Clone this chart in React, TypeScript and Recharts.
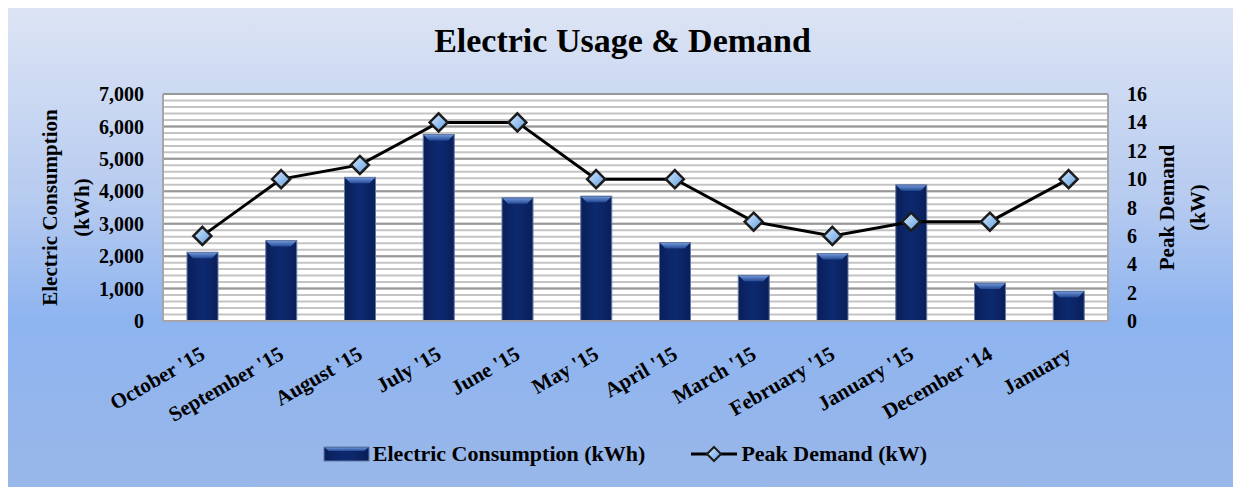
import { ComposedChart, Bar, Line, XAxis, YAxis, CartesianGrid, Legend } from 'recharts';

const months = [
  "October '15", "September '15", "August '15", "July '15", "June '15", "May '15",
  "April '15", "March '15", "February '15", "January '15", "December '14", "January",
];
const consumptionKwh = [2120, 2480, 4430, 5750, 3800, 3850, 2420, 1410, 2080, 4200, 1170, 920];
const peakDemandKw = [6, 10, 11, 14, 14, 10, 10, 7, 6, 7, 7, 10];
const kwhTicks = [0, 1000, 2000, 3000, 4000, 5000, 6000, 7000];
const kwTicks = [0, 2, 4, 6, 8, 10, 12, 14, 16];
const KWH_MAX = 7000;
// minor gridlines every 200 kWh
const minorTicks = Array.from({ length: 36 }, (_, i) => i * 200);

const data = months.map((m, i) => ({ month: m, kwh: consumptionKwh[i], kw: peakDemandKw[i] }));

const FONT = '"Liberation Serif", "Times New Roman", serif';
const W = 1229;
const H = 483;

// map kWh values onto the plot area for the grid lines
const gridGen = (values: number[]) => (props: any) => {
  const { offset } = props;
  return values.map((v) => offset.top + offset.height * (1 - v / KWH_MAX));
};

const BevelBar = (p: any) => {
  const { x, y, width, height } = p;
  if (!height || height <= 0) return null;
  const b = Math.min(6, height / 2);
  return (
    <g>
      <rect x={x} y={y} width={width} height={height} fill="url(#barGrad)" stroke="#6479a3" strokeWidth={1} />
      <polygon
        points={`${x + 0.5},${y + 0.5} ${x + width - 0.5},${y + 0.5} ${x + width - b},${y + b} ${x + b},${y + b}`}
        fill="url(#bevelGrad)"
      />
    </g>
  );
};

const Diamond = (p: any) => {
  const { cx, cy, index } = p;
  const r = 9;
  return (
    <path
      key={`d-${index}`}
      d={`M${cx},${cy - r} L${cx + r},${cy} L${cx},${cy + r} L${cx - r},${cy} Z`}
      fill="url(#diamondGrad)"
      stroke="#1c1c1c"
      strokeWidth={2.5}
    />
  );
};

const MonthTick = (p: any) => {
  const { x, y, payload } = p;
  return (
    <g transform={`translate(${x + 4},${y + 37})`}>
      <text textAnchor="end" transform="rotate(-30)" fontFamily={FONT} fontWeight="bold" fontSize={21} fill="#000">
        {payload.value}
      </text>
    </g>
  );
};

const LeftTitle = (p: any) => {
  const vb = p.viewBox;
  const cy = vb.y + vb.height / 2;
  const x1 = vb.x + 17;
  const x2 = vb.x + 49;
  return (
    <g fontFamily={FONT} fontWeight="bold" fontSize={21} fill="#000">
      <text x={x1} y={cy} textAnchor="middle" dominantBaseline="central" transform={`rotate(-90, ${x1}, ${cy})`}>
        Electric Consumption
      </text>
      <text x={x2} y={cy} textAnchor="middle" dominantBaseline="central" transform={`rotate(-90, ${x2}, ${cy})`}>
        (kWh)
      </text>
    </g>
  );
};

const RightTitle = (p: any) => {
  const vb = p.viewBox;
  const cy = vb.y + vb.height / 2;
  const x1 = vb.x + 59;
  const x2 = vb.x + 90;
  return (
    <g fontFamily={FONT} fontWeight="bold" fontSize={21} fill="#000">
      <text x={x1} y={cy} textAnchor="middle" dominantBaseline="central" transform={`rotate(-90, ${x1}, ${cy})`}>
        Peak Demand
      </text>
      <text x={x2} y={cy} textAnchor="middle" dominantBaseline="central" transform={`rotate(-90, ${x2}, ${cy})`}>
        (kW)
      </text>
    </g>
  );
};

const LegendContent = () => (
  <div
    style={{
      display: 'flex',
      justifyContent: 'center',
      alignItems: 'center',
      gap: 46,
      paddingLeft: 9,
      fontFamily: FONT,
      fontWeight: 'bold',
      fontSize: 22,
      color: '#000',
    }}
  >
    <div style={{ display: 'flex', alignItems: 'center' }}>
      <svg width={48} height={16} style={{ marginRight: 2 }}>
        <rect x={1} y={1} width={45} height={14} fill="url(#barGrad)" stroke="#6479a3" />
        <polygon points="1.5,1.5 45.5,1.5 41,5 6,5" fill="url(#bevelGrad)" />
      </svg>
      <span>Electric Consumption (kWh)</span>
    </div>
    <div style={{ display: 'flex', alignItems: 'center' }}>
      <svg width={48} height={18} style={{ marginRight: 2 }}>
        <line x1={0} y1={9} x2={46} y2={9} stroke="#000" strokeWidth={3} />
        <path d="M23,2 L30,9 L23,16 L16,9 Z" fill="url(#diamondGrad)" stroke="#1c1c1c" strokeWidth={2} />
      </svg>
      <span>Peak Demand (kW)</span>
    </div>
  </div>
);

export default function App() {
  return (
    <div
      style={{
        position: 'relative',
        width: W,
        height: 485,
        marginTop: -4,
        background: 'linear-gradient(to bottom, #dde5f4 0%, #b7cbf0 40%, #8eb4f0 65%, #99b7e9 100%)',
        boxShadow: '4px 0 2px -1px #8a8a8a',
      }}
    >
      <svg width={0} height={0} style={{ position: 'absolute' }}>
        <defs>
          <linearGradient id="barGrad" x1="0" y1="0" x2="1" y2="0">
            <stop offset="0%" stopColor="#0a1f5a" />
            <stop offset="50%" stopColor="#0d2a70" />
            <stop offset="100%" stopColor="#0a1f5a" />
          </linearGradient>
          <linearGradient id="bevelGrad" x1="0" y1="0" x2="0" y2="1">
            <stop offset="0%" stopColor="#6f95d6" />
            <stop offset="100%" stopColor="#244a97" />
          </linearGradient>
          <linearGradient id="diamondGrad" x1="0" y1="0" x2="1" y2="1">
            <stop offset="0%" stopColor="#d9ecff" />
            <stop offset="100%" stopColor="#5d9be0" />
          </linearGradient>
        </defs>
      </svg>
      <div
        style={{
          position: 'absolute',
          top: 20,
          left: 0,
          width: W,
          textAlign: 'center',
          fontFamily: FONT,
          fontWeight: 'bold',
          fontSize: 34,
          lineHeight: 1,
          color: '#000',
        }}
      >
        Electric Usage &amp; Demand
      </div>
      <ComposedChart
        width={W}
        height={H}
        data={data}
        margin={{ top: 90, right: 29, bottom: 6, left: 25 }}
        style={{ position: 'absolute', top: 0, left: 0 }}
      >
        <CartesianGrid
          vertical={false}
          fill="#ffffff"
          stroke="#c4c4c4"
          strokeWidth={2}
          horizontalCoordinatesGenerator={gridGen(minorTicks)}
        />
        <CartesianGrid
          vertical={false}
          stroke="#979797"
          strokeWidth={2}
          horizontalCoordinatesGenerator={gridGen(kwhTicks)}
        />
        <XAxis
          dataKey="month"
          interval={0}
          height={120}
          tickLine={false}
          tickSize={0}
          tickMargin={0}
          axisLine={{ stroke: '#a6a6a6', strokeWidth: 2 }}
          tick={<MonthTick />}
        />
        <YAxis
          yAxisId="left"
          width={130}
          domain={[0, KWH_MAX]}
          ticks={kwhTicks}
          tickFormatter={(v: number) => v.toLocaleString('en-US')}
          tickLine={false}
          tickSize={0}
          tickMargin={19}
          axisLine={{ stroke: '#a6a6a6', strokeWidth: 2 }}
          tick={{ fontFamily: FONT, fontWeight: 'bold', fontSize: 20, fill: '#000' }}
          label={LeftTitle}
        />
        <YAxis
          yAxisId="right"
          orientation="right"
          width={100}
          domain={[0, 16]}
          ticks={kwTicks}
          tickLine={false}
          tickSize={0}
          tickMargin={19}
          axisLine={{ stroke: '#a6a6a6', strokeWidth: 2 }}
          tick={{ fontFamily: FONT, fontWeight: 'bold', fontSize: 20, fill: '#000', textAnchor: 'start' }}
          label={RightTitle}
        />
        <Legend verticalAlign="bottom" height={40} content={<LegendContent />} />
        <Bar
          yAxisId="left"
          dataKey="kwh"
          name="Electric Consumption (kWh)"
          barSize={31}
          shape={<BevelBar />}
          isAnimationActive={false}
        />
        <Line
          yAxisId="right"
          dataKey="kw"
          name="Peak Demand (kW)"
          stroke="#000"
          strokeWidth={3}
          dot={Diamond}
          activeDot={false}
          isAnimationActive={false}
        />
      </ComposedChart>
    </div>
  );
}
